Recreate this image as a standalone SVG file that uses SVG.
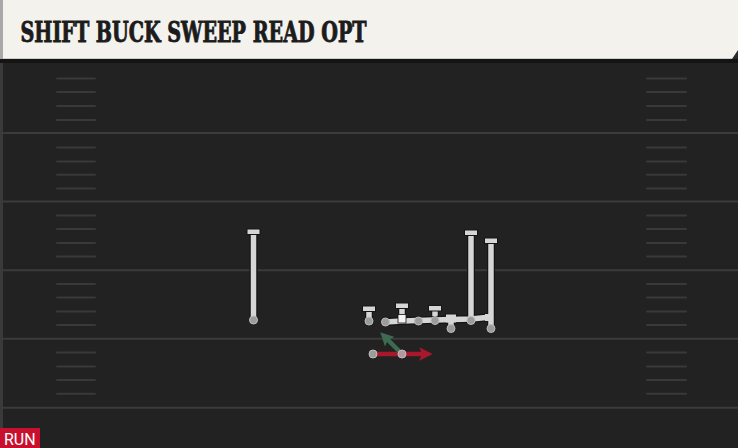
<svg xmlns="http://www.w3.org/2000/svg" width="738" height="448" viewBox="0 0 738 448">
<defs>
<style>
.yl{stroke:#3b3b3b;stroke-width:2}
.hm{stroke:#393939;stroke-width:2;stroke-linecap:round}
.ro{fill:none;stroke:#151515;stroke-width:8;stroke-linecap:butt;stroke-linejoin:round}
.ri{fill:none;stroke:#d6d6d6;stroke-width:5.5;stroke-linecap:butt;stroke-linejoin:round}
.cap{fill:#d6d6d6;stroke:#151515;stroke-width:1}
.dot{fill:#9b9b9b;stroke:#bdbdbd;stroke-width:1}
.title{font-family:"DejaVu Serif Condensed","DejaVu Serif",serif;font-weight:bold;font-size:28px;fill:#1c1c1c;stroke:#1c1c1c;stroke-width:0.9}
.run{font-family:Roboto,"Liberation Sans",sans-serif;font-size:16px;fill:#ffffff}
</style>
<marker id="ar" viewBox="0 0 10 10" refX="5" refY="5" markerWidth="3" markerHeight="3" orient="auto" markerUnits="strokeWidth">
<path d="M0,0 L10,5 L0,10 L2,5 Z" fill="#a8182c"/>
</marker>
<marker id="ag" viewBox="0 0 10 10" refX="5" refY="5" markerWidth="3" markerHeight="3" orient="auto" markerUnits="strokeWidth">
<path d="M0,0 L10,5 L0,10 L2,5 Z" fill="#3d6b50"/>
</marker>
</defs>
<rect x="0" y="0" width="738" height="448" fill="#222222"/>
<rect x="0" y="60" width="3" height="388" fill="#3a3a3a"/>
<g id="field">
<line class="yl" x1="0" y1="133" x2="738" y2="133"/>
<line class="yl" x1="0" y1="201.6" x2="738" y2="201.6"/>
<line class="yl" x1="0" y1="270.2" x2="738" y2="270.2"/>
<line class="yl" x1="0" y1="338.8" x2="738" y2="338.8"/>
<line class="yl" x1="0" y1="407.8" x2="738" y2="407.8"/>
<g id="hash-left">
<line class="hm" x1="57" y1="78.5" x2="95" y2="78.5"/>
<line class="hm" x1="57" y1="92" x2="95" y2="92"/>
<line class="hm" x1="57" y1="106" x2="95" y2="106"/>
<line class="hm" x1="57" y1="120" x2="95" y2="120"/>
<line class="hm" x1="57" y1="147.5" x2="95" y2="147.5"/>
<line class="hm" x1="57" y1="161.5" x2="95" y2="161.5"/>
<line class="hm" x1="57" y1="174.7" x2="95" y2="174.7"/>
<line class="hm" x1="57" y1="188.5" x2="95" y2="188.5"/>
<line class="hm" x1="57" y1="215.5" x2="95" y2="215.5"/>
<line class="hm" x1="57" y1="229" x2="95" y2="229"/>
<line class="hm" x1="57" y1="243" x2="95" y2="243"/>
<line class="hm" x1="57" y1="256.5" x2="95" y2="256.5"/>
<line class="hm" x1="57" y1="284" x2="95" y2="284"/>
<line class="hm" x1="57" y1="297.5" x2="95" y2="297.5"/>
<line class="hm" x1="57" y1="311.5" x2="95" y2="311.5"/>
<line class="hm" x1="57" y1="325" x2="95" y2="325"/>
<line class="hm" x1="57" y1="352.5" x2="95" y2="352.5"/>
<line class="hm" x1="57" y1="366.5" x2="95" y2="366.5"/>
<line class="hm" x1="57" y1="380" x2="95" y2="380"/>
<line class="hm" x1="57" y1="393.7" x2="95" y2="393.7"/>
</g>
<g id="hash-right">
<line class="hm" x1="647" y1="78.5" x2="686" y2="78.5"/>
<line class="hm" x1="647" y1="92" x2="686" y2="92"/>
<line class="hm" x1="647" y1="106" x2="686" y2="106"/>
<line class="hm" x1="647" y1="120" x2="686" y2="120"/>
<line class="hm" x1="647" y1="147.5" x2="686" y2="147.5"/>
<line class="hm" x1="647" y1="161.5" x2="686" y2="161.5"/>
<line class="hm" x1="647" y1="174.7" x2="686" y2="174.7"/>
<line class="hm" x1="647" y1="188.5" x2="686" y2="188.5"/>
<line class="hm" x1="647" y1="215.5" x2="686" y2="215.5"/>
<line class="hm" x1="647" y1="229" x2="686" y2="229"/>
<line class="hm" x1="647" y1="243" x2="686" y2="243"/>
<line class="hm" x1="647" y1="256.5" x2="686" y2="256.5"/>
<line class="hm" x1="647" y1="284" x2="686" y2="284"/>
<line class="hm" x1="647" y1="297.5" x2="686" y2="297.5"/>
<line class="hm" x1="647" y1="311.5" x2="686" y2="311.5"/>
<line class="hm" x1="647" y1="325" x2="686" y2="325"/>
<line class="hm" x1="647" y1="352.5" x2="686" y2="352.5"/>
<line class="hm" x1="647" y1="366.5" x2="686" y2="366.5"/>
<line class="hm" x1="647" y1="380" x2="686" y2="380"/>
<line class="hm" x1="647" y1="393.7" x2="686" y2="393.7"/>
</g>
</g>
<g id="header">
<rect x="0" y="58" width="738" height="5" fill="#141414"/>
<rect x="0" y="0" width="738" height="59" fill="#f4f2ec"/>
<rect x="0" y="0" width="3" height="59" fill="#a8a8a8"/>
<rect x="3" y="58" width="735" height="1" fill="#cfcdc7"/>
<polygon points="738,50 738,59 732,59" fill="#2a2a2a"/>
<text class="title" x="20.5" y="42" textLength="346" lengthAdjust="spacingAndGlyphs">SHIFT BUCK SWEEP READ OPT</text>
</g>
<g id="connectors">
<path class="ro" d="M253.5,320 V233"/>
<path class="ri" d="M253.5,320 V233"/>
<path class="ro" d="M369,321 V310"/>
<path class="ri" d="M369,321 V310"/>
<path class="ro" d="M402,317 V307"/>
<path class="ri" d="M402,317 V307"/>
<path class="ro" d="M435,320 V309"/>
<path class="ri" d="M435,320 V309"/>
<path class="ro" d="M385,322 L402,321 L418,320.5 L435,320 L451,319.5 L471,319 L491,317"/>
<path class="ro" d="M451,328 V318"/>
<path class="ro" d="M471,320 V234"/>
<path class="ro" d="M491,328 V242"/>
<rect x="445.5" y="314" width="11" height="9" fill="#d6d6d6" stroke="#151515" stroke-width="1"/>
<rect x="484.5" y="313.5" width="8" height="8" fill="#d6d6d6" stroke="#151515" stroke-width="1"/>
<path class="ri" d="M385,322 L402,321 L418,320.5 L435,320 L451,319.5 L471,319 L491,317"/>
<path class="ri" d="M451,328 V318"/>
<path class="ri" d="M471,320 V234"/>
<path class="ri" d="M491,328 V242"/>
<line x1="373" y1="354" x2="426" y2="354" stroke="#a8182c" stroke-width="4.5" marker-end="url(#ar)"/>
<line x1="402" y1="354" x2="385" y2="337" stroke="#3d6b50" stroke-width="4.5" marker-end="url(#ag)"/>
</g>
<g id="wr-left">
<rect class="cap" x="247" y="229" width="13" height="5.5"/>
<circle class="dot" cx="253.5" cy="320" r="4"/>
</g>
<g id="player-369">
<rect class="cap" x="362.5" y="306" width="13" height="5.5"/>
<circle class="dot" cx="369" cy="321" r="4"/>
</g>
<g id="ol-385">
<circle class="dot" cx="385.5" cy="322" r="4"/>
</g>
<g id="center">
<rect class="cap" x="395.5" y="303" width="13" height="5.5"/>
<rect x="398" y="314.5" width="8" height="8.5" fill="#f4f4f4" stroke="#151515" stroke-width="0.8"/>
</g>
<g id="ol-418">
<circle class="dot" cx="418.5" cy="321" r="4"/>
</g>
<g id="ol-435">
<rect class="cap" x="428.5" y="305.5" width="13" height="5.5"/>
<circle class="dot" cx="435" cy="320.5" r="4"/>
</g>
<g id="ol-451">
<circle class="dot" cx="451" cy="328.5" r="4"/>
</g>
<g id="te">
<rect class="cap" x="464.5" y="230" width="13" height="5.5"/>
<circle class="dot" cx="471" cy="320.5" r="4"/>
</g>
<g id="wr-right">
<rect class="cap" x="484.5" y="238" width="13" height="5.5"/>
<circle class="dot" cx="491" cy="328.5" r="4"/>
</g>
<g id="back-373">
<circle class="dot" cx="373" cy="354" r="4"/>
</g>
<g id="back-402">
<circle cx="402" cy="354" r="4" fill="#b09a9e" stroke="#c8b8ba" stroke-width="1"/>
</g>
<g id="run-tag">
<rect x="0" y="428" width="40" height="20" fill="#c8102e"/>
<text class="run" x="4" y="445">RUN</text>
</g>
</svg>
